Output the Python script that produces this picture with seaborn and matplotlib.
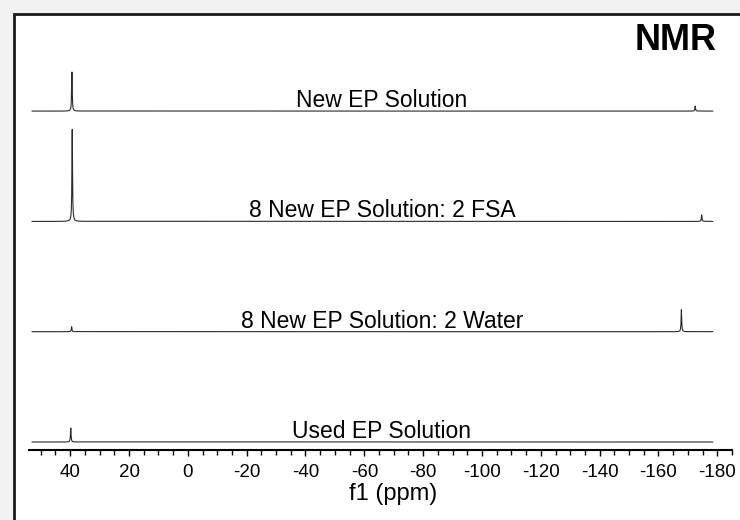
import numpy as np
import pandas as pd
import matplotlib
matplotlib.use("Agg")
import matplotlib.pyplot as plt
from matplotlib.patches import Rectangle
from matplotlib.ticker import MultipleLocator
import seaborn as sns

# ==============================
# Peak lists (ppm, relative height)
# ==============================
samples = ["New EP Solution",
           "8 New EP Solution: 2 FSA",
           "8 New EP Solution: 2 Water",
           "Used EP Solution"]
peak_ppm = [[39.4, -172.5],
            [39.3, -174.7],
            [39.5, -167.8],
            [39.8]]
peak_height = [[39, 5],
               [92, 6.5],
               [5, 22],
               [14]]
tick_values = list(range(40, -181, -20))
ppm_start, ppm_end = 53.0, -178.5

sns.set_style("white")
plt.rcParams["font.family"] = ["Liberation Sans", "DejaVu Sans"]
plt.rcParams["text.color"] = "black"
plt.rcParams["xtick.color"] = "black"
plt.rcParams["axes.labelcolor"] = "black"

fig = plt.figure(figsize=(7.4, 5.2), dpi=100, facecolor="#f2f2f2")
# white slide area with a dark frame on the left/top
fig.patches.append(Rectangle((14 / 740, -0.05), 1.1, 1 - 14 / 520 + 0.05,
                             transform=fig.transFigure, facecolor="white",
                             edgecolor="#1a1a1a", lw=2, zorder=-1))

ax = fig.add_axes([29 / 740, 1 - 450 / 520, 703 / 740, 436 / 520])
ax.patch.set_alpha(0)

gamma = 0.12
spacing = 110.3
for i, name in enumerate(samples):
    base = 8 + spacing * (len(samples) - 1 - i)
    x = np.sort(np.concatenate([np.linspace(ppm_start, ppm_end, 6000), peak_ppm[i]]))
    y = np.zeros_like(x)
    for p, h in zip(peak_ppm[i], peak_height[i]):
        y += h * gamma**2 / ((x - p) ** 2 + gamma**2)
    df = pd.DataFrame({"ppm": x, "intensity": y + base})
    sns.lineplot(data=df, x="ppm", y="intensity", ax=ax, color="#2a2a2a",
                 lw=0.8, estimator=None, sort=False)
    ax.text(-66, base + 4, name, ha="center", va="baseline", fontsize=16.5,
            color="black")

ax.set_xlim(54, -185)
ax.set_ylim(0, 436)
ax.set_yticks([])
ax.set_ylabel("")
ax.set_xticks(tick_values)
ax.set_xticklabels([str(t) for t in tick_values])
ax.xaxis.set_minor_locator(MultipleLocator(5))
ax.tick_params(axis="x", which="major", direction="out", length=4.5, width=1,
               labelsize=13.5, pad=5.5, bottom=True, color="black",
               labelcolor="black")
ax.tick_params(axis="x", which="minor", direction="out", length=3.5, width=1,
               bottom=True, color="black")
for side in ["left", "right", "top"]:
    ax.spines[side].set_visible(False)
ax.spines["bottom"].set_linewidth(1.5)
ax.spines["bottom"].set_color("black")
ax.set_xlabel("f1 (ppm)", fontsize=17, color="black")
ax.xaxis.set_label_coords(0.518, -0.076)

fig.text(676 / 740, 1 - 40 / 520, "NMR", fontsize=26, fontweight="bold",
         ha="center", va="center", color="black")

fig.savefig("out.png", dpi=100)
